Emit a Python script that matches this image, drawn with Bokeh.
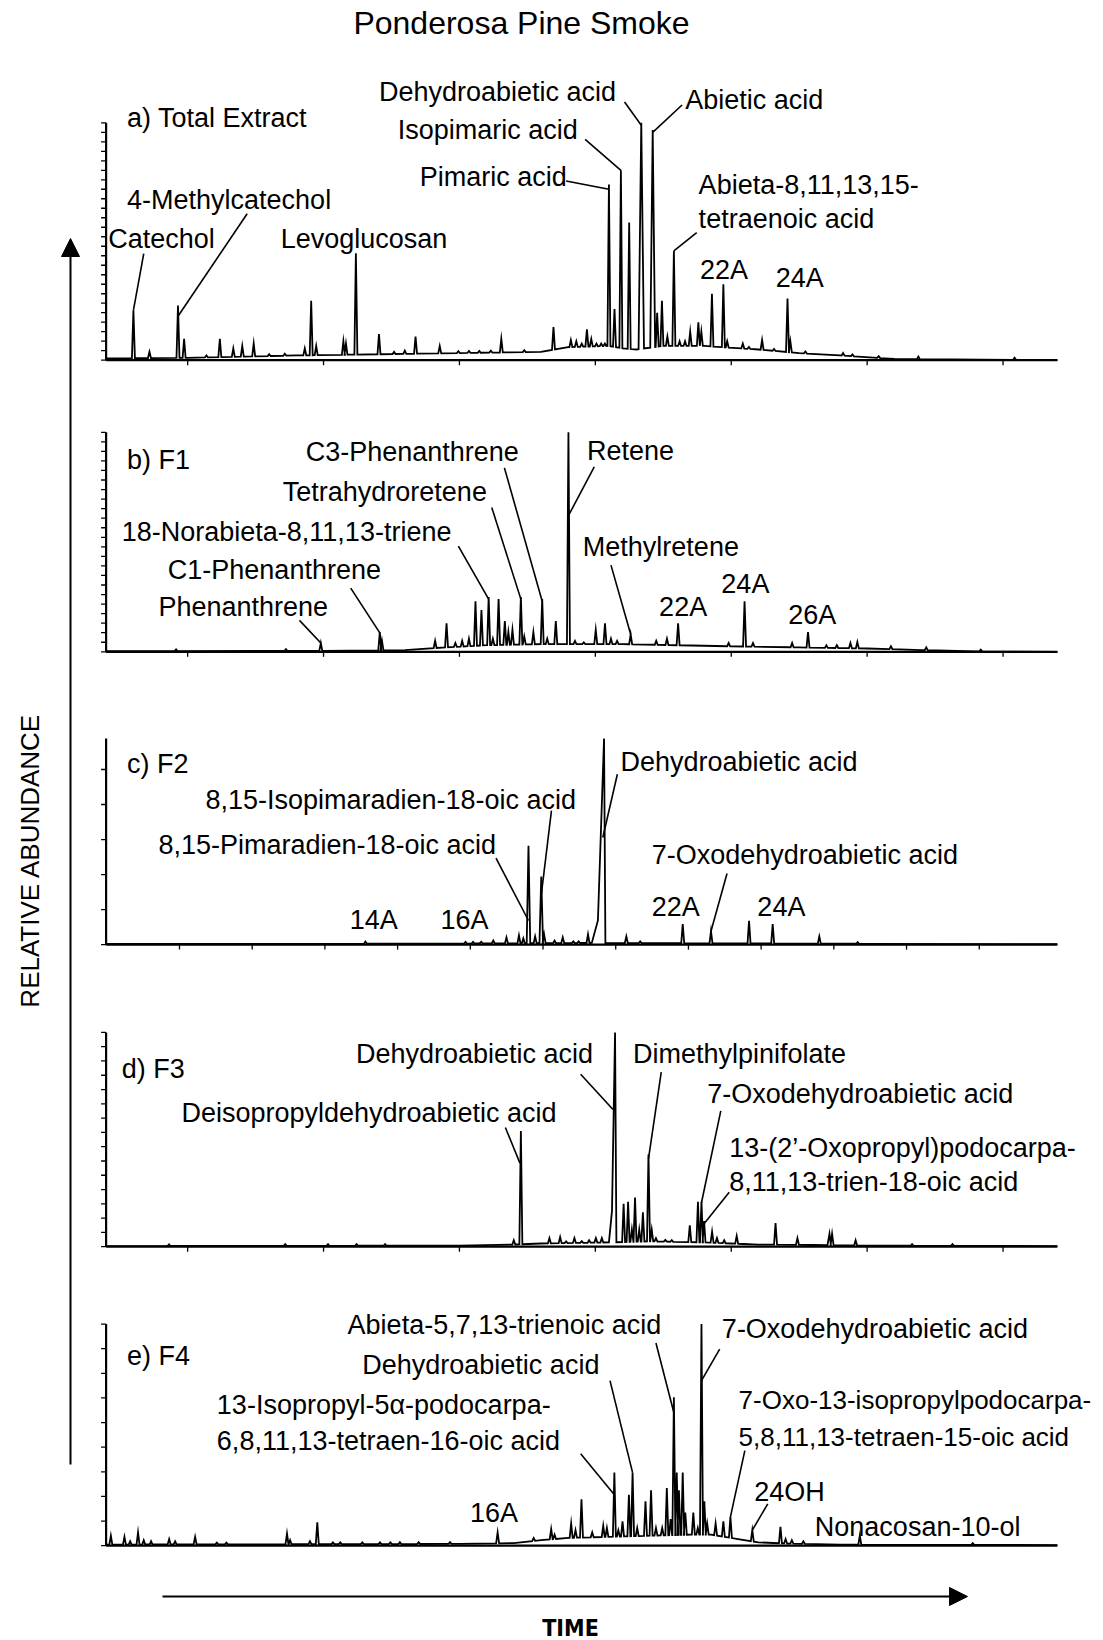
import numpy as np
from bokeh.plotting import figure
from bokeh.models import Range1d, ColumnDataSource, Arrow, NormalHead
from bokeh.core.properties import value
from bokeh.embed import file_html
from bokeh.resources import INLINE

W, H = 1103, 1640
FONT = "Liberation Sans"
LABEL_SIZE = "27px"
LONG_LABEL_SIZE = "26px"

# retention-time axis: 4 min sits on the y-axis
T_START, T_STOP = 4.0, 74.0
AXIS_LEFT_PX, PX_PER_MIN = 105.6, 13.59
PEAK_HALF_WIDTH = 0.11

# vertical placement of each chromatogram: (top of y-axis, baseline) in px
PANEL_PX = {"a": (122.3, 359.7), "b": (431.8, 651.3), "c": (738.1, 944.1),
            "d": (1031.9, 1246.2), "e": (1323.6, 1545.2)}

# ---------------- a) Total Extract ----------------
a_time = [6.01, 7.19, 9.29, 9.74, 11.38, 12.37, 13.36, 14.02, 14.86, 16.0, 17.15, 18.62, 19.09, 19.46,
          21.46, 21.65, 22.38, 24.08, 25.19, 25.98, 26.77, 28.55, 29.92, 30.7, 31.46, 32.31, 33.08,
          34.77, 36.92, 38.2, 38.6, 39.0, 39.38, 39.7, 40.08, 40.43, 40.7, 41.0, 41.41, 41.88, 42.49,
          43.38, 44.22, 44.55, 44.9, 45.3, 45.78, 46.2, 46.6, 46.98, 47.58, 47.8, 48.58, 49.42, 49.7,
          50.85, 51.3, 52.27, 53.15, 54.14, 54.35, 55.46, 58.23, 58.92, 60.85, 63.77, 70.85]
a_height = [21, 3.5, 23, 9, 2, 9, 5, 6, 7, 2, 2, 5, 25, 6, 8, 7, 45, 11, 3.5, 4, 10, 6, 3.5, 2, 2, 2,
            9, 4, 14, 8.5, 8, 7, 13, 9, 7, 7, 7, 74, 21.5, 80, 58, 100, 97, 20, 25, 10, 46, 8, 8, 12,
            16, 12, 28, 32, 8, 7, 4, 8.5, 3, 26, 8, 3, 3, 2, 1.5, 1.5, 1]
a_base_t = [4, 10, 18, 30, 36, 38, 41, 42, 43, 45, 48, 52, 55, 58, 62, 74]
a_base_y = [0.8, 1, 2, 3, 3.5, 5.5, 6, 5, 4.5, 6, 6, 4.5, 3, 2, 0.5, 0]
a_broad = {43.38: (0.2, 0.2, None), 44.22: (0.18, 0.18, None)}
a_yticks = list(range(0, 101, 4))
a_xticks = [10, 20, 30, 40, 50, 60, 70]
a_text = ["a) Total Extract", "Dehydroabietic acid", "Isopimaric acid", "Pimaric acid", "Abietic acid",
          "Abieta-8,11,13,15-", "tetraenoic acid", "22A", "24A", "Catechol", "4-Methylcatechol",
          "Levoglucosan"]
a_text_t = [5.54, 24.08, 25.46, 27.08, 46.62, 47.6, 47.6, 49.46, 55.04, 4.15, 5.54, 16.85]
a_text_y = [102.2, 112.8, 96.9, 77.1, 109.7, 73.6, 59.5, 37.9, 34.8, 51.1, 67.4, 51.1]
a_align = ["left"] * 7 + ["center", "center"] + ["left"] * 3
a_lead = {"t0": [42.15, 39.25, 37.85, 46.38, 47.46, 6.77, 14.38],
          "y0": [108.8, 93, 75.5, 107.5, 53.7, 44.9, 61.7],
          "t1": [43.38, 41.88, 41.0, 44.22, 45.78, 6.01, 9.29],
          "y1": [99, 80, 72, 96, 46, 21, 18.5]}

# ---------------- b) F1 ----------------
b_time = [9.15, 17.23, 19.8, 24.14, 24.3, 28.21, 29.05, 29.7, 30.2, 30.7, 31.18, 31.62, 32.15, 32.46,
          32.88, 33.34, 33.6, 33.9, 34.52, 34.77, 35.44, 36.09, 36.46, 37.09, 38.02, 38.5, 39.15,
          40.03, 40.71, 41.15, 41.6, 42.6, 44.48, 45.27, 46.09, 49.81, 50.98, 51.6, 54.48, 55.65,
          57.0, 57.77, 58.77, 59.28, 61.75, 64.35, 68.36]
b_height = [0.5, 1, 4, 9, 5, 5, 13, 4, 5, 6, 23, 19, 25, 6, 24, 14, 9, 10, 25, 7, 9, 24, 6, 14, 100,
            5, 4, 10, 13, 6, 5, 8, 5, 6, 13, 4, 23, 4, 4, 9, 3, 3, 4, 4.5, 2.5, 2, 1]
b_base_t = [4, 20, 26, 29, 32, 36, 42, 46, 50, 55, 60, 64, 68, 74]
b_base_y = [0.3, 0.4, 0.8, 2, 3, 3.5, 3.5, 3, 2.5, 2, 1.5, 0.8, 0.2, 0]
b_broad = {}
b_yticks = [round(i * 100 / 23, 2) for i in range(24)]
b_xticks = [10, 20, 30, 40, 50, 60, 70]
b_text = ["b) F1", "C3-Phenanthrene", "Retene", "Tetrahydroretene", "18-Norabieta-8,11,13-triene",
          "C1-Phenanthrene", "Phenanthrene", "Methylretene", "22A", "24A", "26A"]
b_text_t = [5.54, 18.69, 39.38, 17.0, 5.15, 8.54, 7.85, 39.08, 46.46, 51.04, 55.96]
b_text_y = [87.6, 91, 91.4, 72.9, 54.8, 37.1, 20.5, 47.6, 20.5, 31, 16.7]
b_align = ["left"] * 8 + ["center"] * 3
b_lead = {"t0": [33.31, 39.92, 32.38, 29.92, 22.0, 18.23, 41.15],
          "y0": [83.8, 84.3, 65.7, 48.1, 29, 14.3, 39.5],
          "t1": [36.09, 38.02, 34.52, 32.15, 24.14, 19.8, 42.6],
          "y1": [23, 62, 24, 24, 8.6, 4, 8]}

# ---------------- c) F2 ----------------
c_time = [23.08, 30.45, 31.0, 31.6, 32.49, 33.46, 34.38, 34.7, 35.08, 35.57, 36.02, 36.23, 37.0,
          37.6, 38.38, 38.77, 39.46, 40.64, 42.28, 43.3, 46.43, 48.51, 51.31, 53.05, 56.48, 59.3]
c_height = [1.5, 1, 1, 1, 2, 3.5, 4.5, 3, 48, 4, 33, 5, 2, 3.5, 1.5, 1.5, 5, 100, 4, 1.5, 10, 6.5,
            11.5, 10, 4, 1]
c_base_t = [4, 30, 40, 60, 74]
c_base_y = [0.3, 0.5, 0.8, 0.4, 0.2]
c_broad = {40.64: (0.9, 0.1, 0.11), 35.08: (0.13, 0.13, None), 36.02: (0.13, 0.13, None)}
c_yticks = [0, 17, 34, 51, 68, 85]
c_xticks = [9.4, 14.75, 20.1, 25.45, 30.8, 36.15, 41.5, 46.85, 52.2, 57.55, 62.9, 68.25]
c_text = ["c) F2", "Dehydroabietic acid", "8,15-Isopimaradien-18-oic acid", "8,15-Pimaradien-18-oic acid",
          "7-Oxodehydroabietic acid", "14A", "16A", "22A", "24A"]
c_text_t = [5.54, 41.85, 11.31, 7.85, 44.15, 23.69, 30.38, 45.92, 53.69]
c_text_y = [87.8, 88.8, 70, 48.2, 43.7, 11.7, 11.7, 18.3, 18.3]
c_align = ["left"] * 5 + ["center"] * 4
c_lead = {"t0": [41.62, 36.77, 32.69, 49.69],
          "y0": [82.7, 65, 42, 34.5],
          "t1": [40.55, 36.02, 35.08, 48.51],
          "y1": [52, 24, 11.7, 6.5]}

# ---------------- d) F3 ----------------
d_time = [8.63, 17.18, 20.33, 22.43, 24.53, 34.0, 34.52, 36.62, 37.41, 37.85, 38.46, 39.0, 39.54,
          40.04, 40.48, 41.45, 42.08, 42.41, 42.69, 42.92, 43.23, 43.5, 43.91, 44.15, 44.46, 45.15,
          45.62, 46.95, 47.55, 47.81, 48.0, 48.59, 48.95, 49.48, 50.4, 53.26, 54.87, 57.23, 57.42,
          59.15, 63.31, 66.28]
d_height = [1, 1, 0.8, 1, 1.2, 3, 54, 4, 4.5, 2, 4, 2.5, 3, 4, 4, 100, 20, 21, 8, 23, 8, 16, 43, 8,
            4, 2, 2, 10, 21, 21, 12, 7, 4, 3, 5, 11, 4, 6, 6, 3, 1, 0.5]
d_base_t = [4, 30, 34, 36, 41, 44, 48, 50, 52, 56, 60, 74]
d_base_y = [0.3, 0.5, 1, 1.5, 2, 2.5, 2, 1.5, 1, 0.8, 0.5, 0.3]
d_broad = {41.45: (0.45, 0.1, 0.15), 57.23: (0.15, 0.1, None)}
d_yticks = [round(i * 100 / 15, 2) for i in range(16)]
d_xticks = [10, 20, 30, 40, 50, 60, 70]
d_text = ["d) F3", "Dehydroabietic acid", "Dimethylpinifolate", "Deisopropyldehydroabietic acid",
          "7-Oxodehydroabietic acid", "13-(2\u2019-Oxopropyl)podocarpa-", "8,11,13-trien-18-oic acid"]
d_text_t = [5.15, 22.38, 42.77, 9.54, 48.23, 49.85, 49.85]
d_text_y = [82.9, 89.8, 89.8, 62.4, 71.2, 45.9, 30.2]
d_align = ["left"] * 7
d_lead = {"t0": [38.92, 44.85, 33.38, 49.23, 49.85],
          "y0": [80.5, 81.5, 55.6, 63.4, 25.4],
          "t1": [41.3, 43.91, 34.45, 47.81, 48.0],
          "y1": [64, 41, 39, 20.5, 10.7]}

# ---------------- e) F4 ----------------
e_time = [4.35, 5.35, 5.77, 6.35, 6.77, 7.31, 8.64, 9.08, 10.55, 12.15, 12.85, 17.31, 17.54, 19.0,
          19.54, 20.69, 21.23, 22.85, 24.15, 24.92, 25.62, 27.0, 29.31, 32.81, 35.46, 36.75, 37.0,
          38.22, 38.54, 38.98, 39.77, 40.58, 40.85, 41.4, 41.69, 42.0, 42.47, 42.74, 43.08, 43.69,
          44.1, 44.46, 44.92, 45.26, 45.54, 45.78, 45.99, 46.15, 46.43, 46.62, 47.21, 47.54, 47.81,
          48.02, 48.23, 48.85, 49.42, 49.94, 51.55, 53.62, 54.0, 54.46, 55.31, 59.46, 67.77]
e_height = [4.5, 4, 2, 6, 2.5, 2, 3, 2, 4, 1, 1, 5.5, 2.5, 2, 10.5, 1.5, 1.5, 1.5, 1.5, 1.5, 1.5,
            1.5, 1.5, 6, 3.5, 7.5, 5, 10, 7, 21, 6, 9, 8, 33, 7, 11, 23, 33, 8, 20, 25, 8, 8, 26, 12,
            67, 33, 25, 33, 15, 15, 8, 100, 20, 10, 10, 11, 13, 7, 8.5, 3, 2.5, 2, 4.5, 1]
e_base_t = [4, 30, 34, 36, 38, 41, 44, 47, 48.5, 50.5, 52, 54, 58, 74]
e_base_y = [0.5, 0.8, 1.2, 2.5, 3.5, 4, 4.5, 5, 5, 3, 1.5, 1, 0.5, 0.3]
e_broad = {}
e_yticks = [round(i * 100 / 9, 2) for i in range(10)]
e_xticks = []
e_text = ["e) F4", "Abieta-5,7,13-trienoic acid", "7-Oxodehydroabietic acid", "Dehydroabietic acid",
          "13-Isopropyl-5\u03b1-podocarpa-", "6,8,11,13-tetraen-16-oic acid",
          "7-Oxo-13-isopropylpodocarpa-", "5,8,11,13-tetraen-15-oic acid", "24OH", "16A",
          "Nonacosan-10-ol"]
e_text_t = [5.54, 21.77, 49.31, 22.85, 12.15, 12.15, 50.54, 50.54, 51.69, 32.54, 56.15]
e_text_y = [85.4, 99.5, 97.6, 81.6, 63.7, 47.2, 65.6, 49.1, 24.1, 14.6, 8.5]
e_align = ["left"] * 9 + ["center", "left"]
e_lead = {"t0": [44.46, 49.15, 41.08, 38.92, 51.0, 52.69],
          "y0": [91.5, 88.7, 74.5, 41.5, 42.9, 18.9],
          "t1": [45.78, 47.81, 42.74, 41.4, 49.94, 51.55],
          "y1": [60, 74.5, 33, 23, 13, 7]}

# names that would otherwise run past the right edge get a slightly smaller size
LONG_LABELS = {"7-Oxo-13-isopropylpodocarpa-", "5,8,11,13-tetraen-15-oic acid"}

PANELS = {
    "a": (a_time, a_height, a_base_t, a_base_y, a_broad, a_yticks, a_xticks, a_text, a_text_t, a_text_y, a_align, a_lead),
    "b": (b_time, b_height, b_base_t, b_base_y, b_broad, b_yticks, b_xticks, b_text, b_text_t, b_text_y, b_align, b_lead),
    "c": (c_time, c_height, c_base_t, c_base_y, c_broad, c_yticks, c_xticks, c_text, c_text_t, c_text_y, c_align, c_lead),
    "d": (d_time, d_height, d_base_t, d_base_y, d_broad, d_yticks, d_xticks, d_text, d_text_t, d_text_y, d_align, d_lead),
    "e": (e_time, e_height, e_base_t, e_base_y, e_broad, e_yticks, e_xticks, e_text, e_text_t, e_text_y, e_align, e_lead),
}


def t_at(px):
    return T_START + (px - AXIS_LEFT_PX) / PX_PER_MIN


def chromatogram(times, heights, base_t, base_y, broad):
    """Join peaks (narrow triangles) and baseline knots into one trace."""
    events, spans = [], []
    for t, h in zip(times, heights):
        wl, wr, shoulder = broad.get(t, (PEAK_HALF_WIDTH, PEAK_HALF_WIDTH, None))
        bl = float(np.interp(t - wl, base_t, base_y))
        br = float(np.interp(t + wr, base_t, base_y))
        apex = max(h, float(np.interp(t, base_t, base_y)) + 0.8)
        pts = [(t - wl, bl)]
        if shoulder is not None:
            pts.append((t - 0.5 * wl, bl + shoulder * (apex - bl)))
        pts += [(t, apex), (t + wr, br)]
        events.append((t - wl, pts))
        spans.append((t - wl, t + wr))
    for bt, by in zip(base_t, base_y):
        if not any(lo <= bt <= hi for lo, hi in spans):
            events.append((bt, [(bt, by)]))
    events.sort(key=lambda e: e[0])
    xs = [q[0] for _, pts in events for q in pts]
    ys = [q[1] for _, pts in events for q in pts]
    return xs, ys


p = figure(width=W, height=H, x_range=Range1d(t_at(0), t_at(W)), y_range=Range1d(H, 0),
           output_backend="svg", toolbar_location=None, min_border=0,
           x_axis_type=None, y_axis_type=None, outline_line_color=None,
           background_fill_color="white", border_fill_color="white")
p.extra_x_ranges = {"page": Range1d(0, W)}
extra_y = {"page": Range1d(H, 0)}
for key, (top, base) in PANEL_PX.items():
    k = 100.0 / (base - top)
    extra_y[key] = Range1d((base - H) * k, base * k)
p.extra_y_ranges = extra_y

for key, (times, heights, bt, by, broad, yticks, xticks, text, tt, ty, align, lead) in PANELS.items():
    xs, ys = chromatogram(times, heights, bt, by, broad)
    p.line(xs, ys, y_range_name=key, line_color="black", line_width=1.8, line_join="miter")
    # axes
    p.segment(x0=[T_START, T_START], y0=[0, 0], x1=[T_START, T_STOP], y1=[100, 0],
              y_range_name=key, line_color="black", line_width=2.2)
    p.ray(x=[T_START] * len(yticks), y=yticks, length=5, length_units="screen", angle=np.pi,
          y_range_name=key, line_color="black", line_width=1.3)
    if xticks:
        p.ray(x=xticks, y=[0] * len(xticks), length=5, length_units="screen", angle=-np.pi / 2,
              y_range_name=key, line_color="black", line_width=1.3)
    # leader lines and compound names
    p.segment(x0=lead["t0"], y0=lead["y0"], x1=lead["t1"], y1=lead["y1"], y_range_name=key,
              line_color="black", line_width=1.6)
    sizes = [LONG_LABEL_SIZE if s in LONG_LABELS else LABEL_SIZE for s in text]
    src = ColumnDataSource(dict(t=tt, y=ty, text=text, align=align, size=sizes))
    p.text(x="t", y="y", text="text", source=src, y_range_name=key, text_align="align",
           text_baseline="middle", text_font=value(FONT), text_font_size="size",
           text_color="black")

# figure title and the axis arrows
p.text(x=[521], y=[22], text=["Ponderosa Pine Smoke"], x_range_name="page", y_range_name="page",
       text_align="center", text_baseline="middle", text_font=value(FONT),
       text_font_size=value("32px"), text_color="black")
p.text(x=[29], y=[860], text=["RELATIVE ABUNDANCE"], x_range_name="page", y_range_name="page",
       angle=np.pi / 2, text_align="center", text_baseline="middle", text_font=value(FONT),
       text_font_size=value("26px"), text_color="black")
p.text(x=[570], y=[1627], text=["TIME"], x_range_name="page", y_range_name="page",
       text_align="center", text_baseline="middle", text_font=value("DejaVu Sans Condensed, sans-serif"),
       text_font_style="bold", text_font_size=value("23px"), text_color="black")

p.add_layout(Arrow(x_start=70, y_start=1464, x_end=70, y_end=238, x_range_name="page",
                   y_range_name="page", line_width=2, line_color="black",
                   end=NormalHead(size=18, fill_color="black", line_color="black", line_width=1)))
p.add_layout(Arrow(x_start=162, y_start=1596, x_end=967, y_end=1596, x_range_name="page",
                   y_range_name="page", line_width=2, line_color="black",
                   end=NormalHead(size=18, fill_color="black", line_color="black", line_width=1)))

open("out.html", "w").write(file_html(p, INLINE))
